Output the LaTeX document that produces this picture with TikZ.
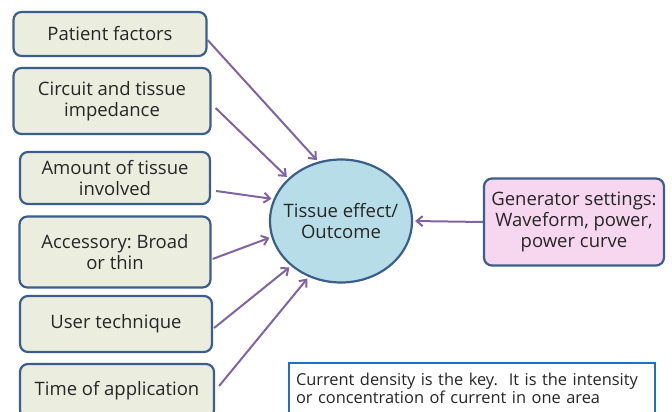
\documentclass[tikz,border=0pt]{standalone}
\usepackage{fontspec}
\setmainfont{Open Sans}
\frenchspacing
\usetikzlibrary{arrows.meta,shapes.geometric}
\definecolor{boxfill}{HTML}{EBEEDF}
\definecolor{boxline}{HTML}{3B5E8A}
\definecolor{hubfill}{HTML}{B7DEE8}
\definecolor{genfill}{HTML}{F7D7F0}
\definecolor{arrowpurple}{HTML}{8064A2}
\definecolor{noteline}{HTML}{1F6FC5}
\tikzstyle{factor node} = [rectangle,rounded corners=8pt,draw=boxline,line width=2.2pt,
                           fill=boxfill,align=center,text=black!85]
\tikzstyle{factor arrow} = [draw=arrowpurple,line width=2pt,shorten >=2pt,
                            -{Straight Barb[length=6pt,width=10pt]}]

\begin{document}
\begin{tikzpicture}[x=1pt,y=-1pt,font=\fontsize{18.5}{21}\selectfont]
\useasboundingbox (0,0) rectangle (672,412);
\clip (0,0) rectangle (672,412);

    % the factors on the left
    \node(patient)[factor node, minimum width=193pt, minimum height=44pt] at (110,34) {Patient factors};
    \node(circuit)[factor node, minimum width=197pt, minimum height=66pt] at (112,101) {Circuit and tissue\\impedance};
    \node(amount)[factor node, minimum width=190pt, minimum height=52pt] at (115,178) {Amount of tissue\\involved};
    \node(accessory)[factor node, minimum width=191pt, minimum height=71pt] at (115,252) {Accessory: Broad\\or thin};
    \node(user)[factor node, minimum width=192pt, minimum height=56pt] at (116,324) {User technique};
    \node(time)[factor node, minimum width=194pt, minimum height=54pt] at (117,391) {Time of application};

    % the outcome and the generator
    \node(outcome)[ellipse,draw=boxline,line width=2.2pt,fill=hubfill,minimum width=142pt,
                   minimum height=123pt,inner sep=0pt,align=center,text=black!85] at (341,221)
        {\makebox[0pt]{Tissue effect/}\\\makebox[0pt]{Outcome}};
    \node(generator)[factor node, fill=genfill, minimum width=180pt, minimum height=87pt] at (574,222)
        {Generator settings:\\Waveform, power,\\power curve};

    % note at the bottom
    \node(note)[rectangle,draw=noteline,line width=2pt,fill=white,anchor=north west,
                text width=352pt,align=left,inner xsep=7pt,inner ysep=10pt,text depth=40pt,
                font=\fontsize{16.4}{18}\selectfont,text=black!85] at (288,362)
        {Current density is the key.\ \ It is the intensity\\or concentration of current in one area};

    \draw[factor arrow]([yshift=-6pt]patient.east)to(outcome.111);
    \draw[factor arrow]([shift={(4pt,-7pt)}]circuit.east)to(outcome.141);
    \draw[factor arrow]([shift={(5pt,-13pt)}]amount.east)to(outcome.162);
    \draw[factor arrow]([shift={(1pt,-7pt)}]accessory.east)to(outcome.193);
    \draw[factor arrow]([shift={(1pt,-4pt)}]user.east)to(outcome.222);
    \draw[factor arrow]([shift={(4pt,5pt)}]time.east)to(outcome.240);
    \draw[factor arrow](generator.west)to(outcome.east);

\end{tikzpicture}
\end{document}
